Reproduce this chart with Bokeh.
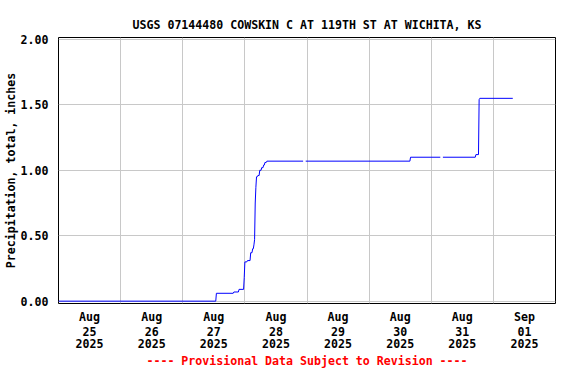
import numpy as np
import pandas as pd
from bokeh.plotting import figure
from bokeh.models import (Range1d, FixedTicker, Title, NumeralTickFormatter,
                          ColumnDataSource, LinearAxis)
from bokeh.embed import file_html
from bokeh.resources import INLINE

# ---------------- data ----------------
title_text = "USGS 07144480 COWSKIN C AT 119TH ST AT WICHITA, KS"
y_label = "Precipitation, total, inches"
footer_text = "---- Provisional Data Subject to Revision ----"

times = [
    "2025-08-25 00:00", "2025-08-27 12:45", "2025-08-27 13:00", "2025-08-27 19:30",
    "2025-08-27 19:45", "2025-08-27 21:30", "2025-08-27 21:45", "2025-08-27 23:30",
    "2025-08-27 23:45", "2025-08-28 00:00", "2025-08-28 00:45", "2025-08-28 01:00",
    "2025-08-28 02:00", "2025-08-28 02:15", "2025-08-28 02:45", "2025-08-28 03:00",
    "2025-08-28 03:15", "2025-08-28 03:30", "2025-08-28 03:45", "2025-08-28 04:00",
    "2025-08-28 04:15", "2025-08-28 04:30", "2025-08-28 04:45", "2025-08-28 05:00",
    "2025-08-28 05:30", "2025-08-28 05:45", "2025-08-28 06:15", "2025-08-28 06:30",
    "2025-08-28 07:00", "2025-08-28 07:15", "2025-08-28 07:30", "2025-08-28 07:45",
    "2025-08-28 08:15", "2025-08-28 08:30", "2025-08-28 22:30", "2025-08-28 23:00",
    "2025-08-28 23:30", "2025-08-30 15:45", "2025-08-30 16:00", "2025-08-31 03:30",
    "2025-08-31 04:00", "2025-08-31 04:30", "2025-08-31 17:00", "2025-08-31 17:15",
    "2025-08-31 18:15", "2025-08-31 18:30", "2025-08-31 18:45", "2025-09-01 07:30",
]
values = [
    0.00, 0.00, 0.06, 0.06,
    0.07, 0.07, 0.09, 0.09,
    0.18, 0.30, 0.30, 0.31,
    0.31, 0.37, 0.37, 0.40,
    0.40, 0.43, 0.47, 0.75,
    0.87, 0.95, 0.95, 0.96,
    0.96, 1.00, 1.00, 1.02,
    1.02, 1.04, 1.04, 1.06,
    1.06, 1.07, 1.07, np.nan,
    1.07, 1.07, 1.10, 1.10,
    np.nan, 1.10, 1.10, 1.12,
    1.12, 1.54, 1.55, 1.55,
]

tick_dates = ["2025-08-25 12:00", "2025-08-26 12:00", "2025-08-27 12:00", "2025-08-28 12:00",
              "2025-08-29 12:00", "2025-08-30 12:00", "2025-08-31 12:00", "2025-09-01 12:00"]
tick_months = ["Aug", "Aug", "Aug", "Aug", "Aug", "Aug", "Aug", "Sep"]
tick_days = ["25", "26", "27", "28", "29", "30", "31", "01"]
tick_years = ["2025", "2025", "2025", "2025", "2025", "2025", "2025", "2025"]
grid_dates = ["2025-08-26", "2025-08-27", "2025-08-28", "2025-08-29",
              "2025-08-30", "2025-08-31", "2025-09-01"]
y_ticks = [0.0, 0.5, 1.0, 1.5, 2.0]
x_start, x_end = "2025-08-25 00:00", "2025-09-02 00:00"
y_start, y_end = -0.018, 2.015


def ms(s):
    return int(pd.Timestamp(s).value // 10**6)


FONT = "DejaVu Sans Mono"
FSIZE = "11.6px"

p = figure(
    width=560, height=368,
    x_range=Range1d(ms(x_start), ms(x_end)),
    y_range=Range1d(y_start, y_end),
    x_axis_location=None,
    output_backend="svg", toolbar_location=None,
    min_border_left=50, min_border_right=5, min_border_top=37, min_border_bottom=0,
    background_fill_color="white", border_fill_color="white",
)

p.outline_line_color = "black"
p.outline_line_width = 1

# title
p.title.text = title_text
p.title.align = "center"
p.title.text_font = FONT
p.title.text_font_size = FSIZE
p.title.text_font_style = "bold"
p.title.text_color = "black"
p.title.standoff = 12

# grids
p.xgrid.ticker = FixedTicker(ticks=[ms(d) for d in grid_dates])
p.ygrid.ticker = FixedTicker(ticks=y_ticks)
p.grid.grid_line_color = "#c8c8c8"
p.grid.grid_line_width = 1

# x axes: one row of labels per axis (month, day, year)
tick_ms = [ms(t) for t in tick_dates]
for labels, standoff in ((tick_months, 6), (tick_days, 0), (tick_years, 0)):
    ax = LinearAxis(ticker=FixedTicker(ticks=tick_ms),
                    major_label_overrides={t: lab for t, lab in zip(tick_ms, labels)})
    ax.axis_line_color = None
    ax.major_tick_line_color = None
    ax.minor_tick_line_color = None
    ax.major_tick_out = 0
    ax.major_tick_in = 0
    ax.minor_tick_out = 0
    ax.major_label_text_font = FONT
    ax.major_label_text_font_size = FSIZE
    ax.major_label_text_font_style = "bold"
    ax.major_label_text_color = "black"
    ax.major_label_standoff = standoff
    p.add_layout(ax, "below")

# y axis
ya = p.yaxis[0]
ya.ticker = FixedTicker(ticks=y_ticks)
ya.formatter = NumeralTickFormatter(format="0.00")
ya.axis_line_color = None
ya.major_tick_line_color = None
ya.minor_tick_line_color = None
ya.major_label_text_font = FONT
ya.major_label_text_font_size = FSIZE
ya.major_label_text_font_style = "bold"
ya.major_label_text_color = "black"
ya.major_label_standoff = 4
ya.axis_label = y_label
ya.axis_label_text_font = FONT
ya.axis_label_text_font_size = FSIZE
ya.axis_label_text_font_style = "bold"
ya.axis_label_text_color = "black"
ya.axis_label_standoff = 0

# data
src = ColumnDataSource(dict(t=pd.to_datetime(times), v=values))
p.line(x="t", y="v", source=src, line_color="#0000ff", line_width=1)

# footer
p.add_layout(Title(text=footer_text, align="center", text_color="#ff0000",
                   text_font=FONT, text_font_size=FSIZE, text_font_style="bold",
                   standoff=2), "below")

open("out.html", "w").write(file_html(p, INLINE))
